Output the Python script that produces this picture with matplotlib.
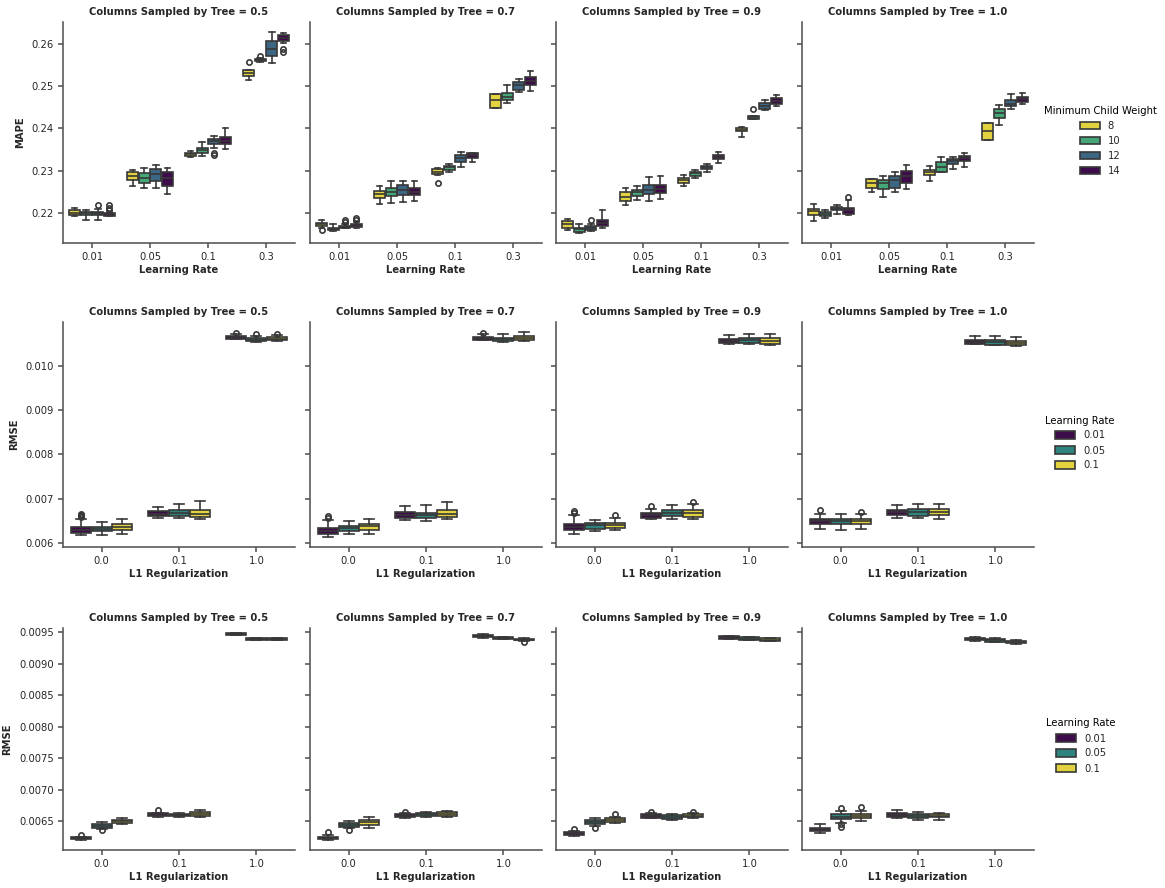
import colorsys

import matplotlib
import numpy as np

matplotlib.use("Agg")

import matplotlib.pyplot as plt
from matplotlib.colors import to_rgb
from matplotlib.patches import Patch

# ---- data: box stats per panel -> category -> hue, as (whislo, q1, med, q3, whishi)
COLSAMPLE = ["0.5", "0.7", "0.9", "1.0"]
LEARNING_RATES = ["0.01", "0.05", "0.1", "0.3"]
MIN_CHILD_WEIGHT = ["8", "10", "12", "14"]
L1_REG = ["0.0", "0.1", "1.0"]
LR_HUE = ["0.01", "0.05", "0.1"]

MAPE = [
    [  # colsample 0.5
        [(0.2192, 0.2195, 0.2200, 0.2206, 0.2212), (0.2184, 0.2195, 0.2199, 0.2202, 0.2208),
         (0.2184, 0.2195, 0.2199, 0.2202, 0.2209), (0.2192, 0.2194, 0.2197, 0.2200, 0.2203)],
        [(0.2263, 0.2279, 0.2288, 0.2296, 0.2302), (0.2259, 0.2271, 0.2283, 0.2294, 0.2307),
         (0.2259, 0.2275, 0.2292, 0.2304, 0.2314), (0.2246, 0.2263, 0.2283, 0.2296, 0.2306)],
        [(0.2332, 0.2335, 0.2339, 0.2342, 0.2347), (0.2334, 0.2343, 0.2348, 0.2354, 0.2369),
         (0.2353, 0.2364, 0.2370, 0.2375, 0.2382), (0.2351, 0.2364, 0.2371, 0.2381, 0.2400)],
        [(0.2514, 0.2524, 0.2532, 0.2538, 0.2538), (0.2557, 0.2560, 0.2562, 0.2565, 0.2566),
         (0.2556, 0.2571, 0.2587, 0.2607, 0.2628), (0.2602, 0.2607, 0.2613, 0.2621, 0.2625)],
    ],
    [  # colsample 0.7
        [(0.2165, 0.2169, 0.2173, 0.2176, 0.2184), (0.2158, 0.2159, 0.2162, 0.2165, 0.2173),
         (0.2164, 0.2164, 0.2167, 0.2170, 0.2175), (0.2165, 0.2166, 0.2169, 0.2173, 0.2178)],
        [(0.2222, 0.2235, 0.2245, 0.2253, 0.2263), (0.2224, 0.2241, 0.2250, 0.2259, 0.2275),
         (0.2226, 0.2243, 0.2255, 0.2267, 0.2276), (0.2229, 0.2242, 0.2250, 0.2259, 0.2275)],
        [(0.2290, 0.2293, 0.2298, 0.2304, 0.2306), (0.2298, 0.2302, 0.2308, 0.2312, 0.2316),
         (0.2309, 0.2320, 0.2330, 0.2338, 0.2345), (0.2320, 0.2331, 0.2337, 0.2342, 0.2343)],
        [(0.2449, 0.2449, 0.2467, 0.2481, 0.2481), (0.2461, 0.2467, 0.2475, 0.2483, 0.2502),
         (0.2487, 0.2492, 0.2503, 0.2511, 0.2518), (0.2489, 0.2503, 0.2512, 0.2522, 0.2536)],
    ],
    [  # colsample 0.9
        [(0.2159, 0.2165, 0.2173, 0.2180, 0.2186), (0.2153, 0.2154, 0.2161, 0.2165, 0.2173),
         (0.2157, 0.2159, 0.2165, 0.2169, 0.2173), (0.2165, 0.2169, 0.2176, 0.2183, 0.2206)],
        [(0.2220, 0.2229, 0.2239, 0.2249, 0.2259), (0.2230, 0.2241, 0.2249, 0.2255, 0.2263),
         (0.2228, 0.2245, 0.2255, 0.2267, 0.2285), (0.2233, 0.2247, 0.2257, 0.2266, 0.2287)],
        [(0.2265, 0.2271, 0.2277, 0.2283, 0.2290), (0.2283, 0.2288, 0.2294, 0.2298, 0.2302),
         (0.2298, 0.2304, 0.2308, 0.2312, 0.2316), (0.2318, 0.2327, 0.2333, 0.2338, 0.2345)],
        [(0.2379, 0.2393, 0.2397, 0.2400, 0.2403), (0.2422, 0.2423, 0.2426, 0.2429, 0.2430),
         (0.2444, 0.2446, 0.2453, 0.2461, 0.2467), (0.2453, 0.2457, 0.2465, 0.2471, 0.2479)],
    ],
    [  # colsample 1.0
        [(0.2180, 0.2196, 0.2204, 0.2210, 0.2222), (0.2187, 0.2192, 0.2197, 0.2202, 0.2206),
         (0.2198, 0.2206, 0.2210, 0.2214, 0.2220), (0.2195, 0.2198, 0.2206, 0.2212, 0.2231)],
        [(0.2250, 0.2258, 0.2271, 0.2280, 0.2281), (0.2239, 0.2257, 0.2271, 0.2279, 0.2288),
         (0.2249, 0.2259, 0.2279, 0.2288, 0.2298), (0.2257, 0.2271, 0.2287, 0.2300, 0.2314)],
        [(0.2275, 0.2289, 0.2296, 0.2301, 0.2312), (0.2296, 0.2298, 0.2310, 0.2320, 0.2332),
         (0.2305, 0.2316, 0.2323, 0.2328, 0.2332), (0.2310, 0.2324, 0.2331, 0.2336, 0.2342)],
        [(0.2373, 0.2373, 0.2393, 0.2412, 0.2414), (0.2408, 0.2424, 0.2436, 0.2445, 0.2456),
         (0.2445, 0.2453, 0.2459, 0.2467, 0.2481), (0.2459, 0.2463, 0.2469, 0.2474, 0.2483)],
    ],
]
MAPE_FLIERS = {
    (0, 0, 2): [0.2218], (0, 0, 3): [0.2218, 0.2212, 0.2206], (0, 2, 2): [0.2342, 0.2338],
    (0, 3, 0): [0.2558], (0, 3, 1): [0.2571], (0, 3, 3): [0.2587, 0.2581],
    (1, 0, 0): [0.2159], (1, 0, 2): [0.2183, 0.2178], (1, 0, 3): [0.2188, 0.2183],
    (1, 2, 0): [0.2271],
    (2, 0, 2): [0.2184], (2, 3, 1): [0.2445],
    (3, 0, 3): [0.2239],
}

RMSE_A = [
    [  # colsample 0.5
        [(0.006181, 0.006219, 0.006294, 0.006355, 0.006543), (0.006166, 0.006264, 0.006309, 0.006355, 0.006468),
         (0.006204, 0.006294, 0.006355, 0.006415, 0.006543)],
        [(0.006566, 0.006596, 0.006657, 0.006717, 0.006808), (0.006566, 0.006596, 0.006672, 0.006732, 0.006868),
         (0.006528, 0.006581, 0.006657, 0.006747, 0.006936)],
        [(0.010604, 0.010619, 0.010649, 0.010672, 0.010717), (0.010551, 0.010566, 0.010596, 0.010634, 0.010679),
         (0.010566, 0.010581, 0.010619, 0.010657, 0.010709)],
    ],
    [  # colsample 0.7
        [(0.006128, 0.006189, 0.006264, 0.006340, 0.006506), (0.006204, 0.006257, 0.006325, 0.006385, 0.006491),
         (0.006204, 0.006294, 0.006370, 0.006430, 0.006543)],
        [(0.006506, 0.006551, 0.006619, 0.006694, 0.006830), (0.006491, 0.006551, 0.006619, 0.006679, 0.006860),
         (0.006536, 0.006581, 0.006657, 0.006732, 0.006913)],
        [(0.010596, 0.010596, 0.010626, 0.010657, 0.010717), (0.010551, 0.010558, 0.010604, 0.010642, 0.010732),
         (0.010566, 0.010596, 0.010642, 0.010679, 0.010762)],
    ],
    [  # colsample 0.9
        [(0.006204, 0.006279, 0.006355, 0.006430, 0.006619), (0.006264, 0.006317, 0.006392, 0.006445, 0.006521),
         (0.006279, 0.006332, 0.006392, 0.006453, 0.006566)],
        [(0.006528, 0.006566, 0.006634, 0.006679, 0.006770), (0.006528, 0.006596, 0.006672, 0.006732, 0.006845),
         (0.006528, 0.006581, 0.006672, 0.006732, 0.006868)],
        [(0.010506, 0.010521, 0.010566, 0.010604, 0.010694), (0.010506, 0.010528, 0.010581, 0.010634, 0.010717),
         (0.010483, 0.010506, 0.010566, 0.010626, 0.010732)],
    ],
    [  # colsample 1.0
        [(0.006317, 0.006415, 0.006491, 0.006543, 0.006657), (0.006279, 0.006415, 0.006483, 0.006543, 0.006642),
         (0.006317, 0.006415, 0.006491, 0.006543, 0.006642)],
        [(0.006566, 0.006619, 0.006687, 0.006747, 0.006845), (0.006551, 0.006604, 0.006687, 0.006755, 0.006868),
         (0.006536, 0.006626, 0.006694, 0.006755, 0.006868)],
        [(0.010491, 0.010506, 0.010551, 0.010596, 0.010672), (0.010483, 0.010483, 0.010536, 0.010581, 0.010672),
         (0.010445, 0.010483, 0.010521, 0.010566, 0.010649)],
    ],
]
RMSE_A_FLIERS = {
    (0, 0, 0): [0.00664, 0.00662, 0.00660, 0.00658], (0, 2, 0): [0.010755],
    (0, 2, 1): [0.010732], (0, 2, 2): [0.010732],
    (1, 0, 0): [0.006596, 0.006560], (1, 2, 0): [0.010740],
    (2, 0, 0): [0.006717, 0.006679], (2, 0, 2): [0.006619], (2, 1, 0): [0.006830],
    (2, 1, 2): [0.006921],
    (3, 0, 0): [0.006747], (3, 0, 2): [0.006694],
}

RMSE_B = [
    [  # colsample 0.5
        [(0.006197, 0.006208, 0.006224, 0.006240, 0.006251), (0.006367, 0.006394, 0.006420, 0.006447, 0.006489),
         (0.006452, 0.006473, 0.006495, 0.006516, 0.006542)],
        [(0.006569, 0.006580, 0.006601, 0.006622, 0.006633), (0.006569, 0.006580, 0.006598, 0.006618, 0.006628),
         (0.006558, 0.006580, 0.006617, 0.006649, 0.006675)],
        [(0.009451, 0.009456, 0.009472, 0.009484, 0.009489), (0.009377, 0.009382, 0.009398, 0.009409, 0.009414),
         (0.009372, 0.009377, 0.009393, 0.009403, 0.009409)],
    ],
    [  # colsample 0.7
        [(0.006197, 0.006208, 0.006229, 0.006251, 0.006272), (0.006383, 0.006399, 0.006436, 0.006473, 0.006505),
         (0.006394, 0.006436, 0.006484, 0.006516, 0.006569)],
        [(0.006542, 0.006558, 0.006580, 0.006606, 0.006622), (0.006569, 0.006585, 0.006606, 0.006633, 0.006649),
         (0.006558, 0.006580, 0.006611, 0.006638, 0.006659)],
        [(0.009414, 0.009425, 0.009441, 0.009456, 0.009467), (0.009388, 0.009393, 0.009403, 0.009419, 0.009425),
         (0.009368, 0.009372, 0.009382, 0.009398, 0.009403)],
    ],
    [  # colsample 0.9
        [(0.006261, 0.006277, 0.006304, 0.006330, 0.006346), (0.006420, 0.006452, 0.006489, 0.006516, 0.006553),
         (0.006463, 0.006479, 0.006516, 0.006542, 0.006569)],
        [(0.006542, 0.006553, 0.006580, 0.006606, 0.006622), (0.006516, 0.006532, 0.006569, 0.006596, 0.006611),
         (0.006542, 0.006558, 0.006585, 0.006611, 0.006633)],
        [(0.009393, 0.009398, 0.009419, 0.009435, 0.009446), (0.009372, 0.009377, 0.009398, 0.009419, 0.009425),
         (0.009356, 0.009361, 0.009382, 0.009409, 0.009414)],
    ],
    [  # colsample 1.0
        [(0.006314, 0.006341, 0.006367, 0.006394, 0.006447), (0.006473, 0.006532, 0.006569, 0.006606, 0.006665),
         (0.006505, 0.006542, 0.006580, 0.006611, 0.006665)],
        [(0.006548, 0.006564, 0.006596, 0.006622, 0.006675), (0.006516, 0.006553, 0.006585, 0.006611, 0.006643),
         (0.006516, 0.006558, 0.006580, 0.006606, 0.006622)],
        [(0.009366, 0.009372, 0.009393, 0.009414, 0.009419), (0.009345, 0.009350, 0.009377, 0.009398, 0.009403),
         (0.009318, 0.009324, 0.009345, 0.009366, 0.009372)],
    ],
]
RMSE_B_FLIERS = {
    (0, 0, 0): [0.006277], (0, 0, 1): [0.006357], (0, 1, 0): [0.006675],
    (1, 0, 0): [0.006320], (1, 0, 1): [0.006357], (1, 1, 0): [0.006649], (1, 2, 2): [0.009352],
    (2, 0, 0): [0.006367], (2, 0, 1): [0.006383], (2, 0, 2): [0.006606],
    (2, 1, 0): [0.006649], (2, 1, 2): [0.006649],
    (3, 0, 1): [0.006702, 0.006447, 0.006410], (3, 0, 2): [0.006718],
}

# ---- styling
W, H = 1165, 888
FS = 7.2
LW = 1.2
EDGE = "#383838"
TEXT = "#262626"


def desaturate(color, prop=0.75):
    h, l, s = colorsys.rgb_to_hls(*to_rgb(color))
    return colorsys.hls_to_rgb(h, l, s * prop)


cmap = plt.get_cmap("viridis")
MCW_COLORS = [desaturate(cmap(v)) for v in (1.0, 2 / 3, 1 / 3, 0.0)]
LR_COLORS = [desaturate(cmap(v)) for v in (0.0, 0.5, 1.0)]


def draw_boxes(ax, stats, fliers, panel, colors):
    n_cat = len(stats)
    n_hue = len(colors)
    width = 0.8 / n_hue
    for h, color in enumerate(colors):
        boxes = []
        positions = []
        for c in range(n_cat):
            lo, q1, med, q3, hi = stats[c][h]
            boxes.append(dict(whislo=lo, q1=q1, med=med, q3=q3, whishi=hi,
                              fliers=fliers.get((panel, c, h), [])))
            positions.append(c - 0.4 + width * (h + 0.5))
        ax.bxp(
            boxes, positions=positions, widths=width * 0.98, patch_artist=True,
            showfliers=True, manage_ticks=False,
            boxprops=dict(facecolor=color, edgecolor=EDGE, linewidth=LW),
            medianprops=dict(color=EDGE, linewidth=LW),
            whiskerprops=dict(color=EDGE, linewidth=LW),
            capprops=dict(color=EDGE, linewidth=LW),
            flierprops=dict(marker="o", markerfacecolor="none", markeredgecolor=EDGE,
                            markersize=3.8, markeredgewidth=LW, linestyle="none"),
        )


def style_axis(ax, ylim, yticks, fmt, show_labels):
    for side in ("top", "right"):
        ax.spines[side].set_visible(False)
    for side in ("left", "bottom"):
        ax.spines[side].set_color("#4d4d4d")
        ax.spines[side].set_linewidth(1.1)
    ax.set_ylim(*ylim)
    ax.set_yticks(yticks)
    ax.set_yticklabels([fmt % t for t in yticks] if show_labels else [])
    ax.tick_params(length=3.5, width=1.1, color="#4d4d4d", labelsize=FS, labelcolor=TEXT, pad=3)


fig = plt.figure(figsize=(W / 100, H / 100), dpi=100)

rows = [
    dict(data=MAPE, fliers=MAPE_FLIERS, cats=LEARNING_RATES, colors=MCW_COLORS, top=22, bottom=243,
         ylim=(0.2129, 0.2652), yticks=[0.22, 0.23, 0.24, 0.25, 0.26], fmt="%.2f",
         xlabel="Learning Rate", ylabel="MAPE", legend_title="Minimum Child Weight",
         legend_labels=MIN_CHILD_WEIGHT, legend_xy=(1100, 141)),
    dict(data=RMSE_A, fliers=RMSE_A_FLIERS, cats=L1_REG, colors=LR_COLORS, top=322, bottom=547,
         ylim=(0.005902, 0.010996), yticks=[0.006, 0.007, 0.008, 0.009, 0.010], fmt="%.3f",
         xlabel="L1 Regularization", ylabel="RMSE", legend_title="Learning Rate",
         legend_labels=LR_HUE, legend_xy=(1080, 443)),
    dict(data=RMSE_B, fliers=RMSE_B_FLIERS, cats=L1_REG, colors=LR_COLORS, top=628, bottom=850,
         ylim=(0.006038, 0.009568),
         yticks=[0.0065, 0.0070, 0.0075, 0.0080, 0.0085, 0.0090, 0.0095], fmt="%.4f",
         xlabel="L1 Regularization", ylabel="RMSE", legend_title="Learning Rate",
         legend_labels=LR_HUE, legend_xy=(1081, 746)),
]
LEFTS = [63, 310, 556, 802]
AX_W = 232

for row in rows:
    height = row["bottom"] - row["top"]
    for p, left in enumerate(LEFTS):
        ax = fig.add_axes([left / W, 1 - row["bottom"] / H, AX_W / W, height / H])
        draw_boxes(ax, row["data"][p], row["fliers"], p, row["colors"])
        n_cat = len(row["cats"])
        ax.set_xlim(-0.5, n_cat - 0.5)
        ax.set_xticks(range(n_cat))
        ax.set_xticklabels(row["cats"])
        style_axis(ax, row["ylim"], row["yticks"], row["fmt"], p == 0)
        ax.set_title(f"Columns Sampled by Tree = {COLSAMPLE[p]}", fontsize=FS,
                     fontweight="bold", color=TEXT, pad=5)
        ax.set_xlabel(row["xlabel"], fontsize=FS, fontweight="bold", color=TEXT, labelpad=2)
        if p == 0:
            ax.set_ylabel(row["ylabel"], fontsize=FS, fontweight="bold", color=TEXT, labelpad=5)

    handles = [Patch(facecolor=c, edgecolor=EDGE, linewidth=LW) for c in row["colors"]]
    lx, ly = row["legend_xy"]
    fig.legend(handles, row["legend_labels"], title=row["legend_title"], loc="center",
               bbox_to_anchor=(lx / W, 1 - ly / H), frameon=False, fontsize=FS,
               title_fontsize=FS, labelcolor=TEXT, handlelength=2.0, handleheight=0.8)

fig.savefig("out.png", dpi=100)
plt.close(fig)
